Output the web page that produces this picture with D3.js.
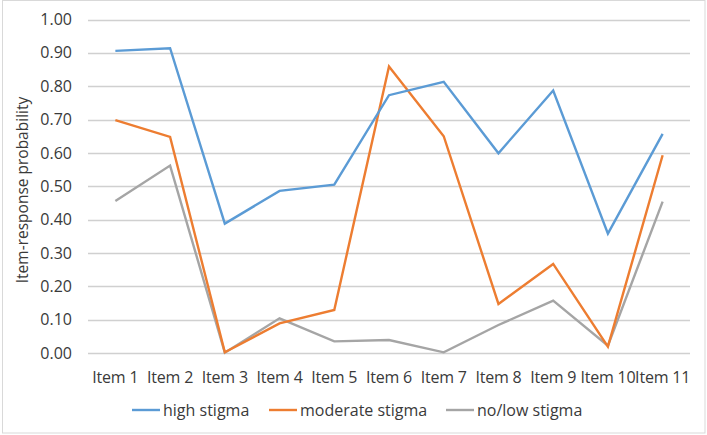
<!DOCTYPE html>
<html><head><meta charset="utf-8">
<script src="https://cdn.jsdelivr.net/npm/d3@7"></script>
<style>body{margin:0;background:#fff}svg{display:block}text{font-family:"Open Sans",sans-serif;fill:#3a3a3a}</style>
</head><body>
<script>
const categories = ["Item 1","Item 2","Item 3","Item 4","Item 5","Item 6","Item 7","Item 8","Item 9","Item 10","Item 11"];
const highStigma = [0.906,0.914,0.388,0.486,0.505,0.773,0.813,0.599,0.787,0.358,0.657];
const moderateStigma = [0.698,0.648,0.002,0.089,0.129,0.859,0.650,0.147,0.267,0.019,0.593];
const lowStigma = [0.456,0.562,0.001,0.104,0.035,0.039,0.002,0.084,0.157,0.022,0.454];
const yTicks = [0,0.1,0.2,0.3,0.4,0.5,0.6,0.7,0.8,0.9,1.0];
const seriesNames = ["high stigma","moderate stigma","no/low stigma"];
const colors = ["#5B9BD5","#ED7D31","#A5A5A5"];
const yTitle = "Item-response probability";

const W=707,H=435;
const svg=d3.select("body").append("svg").attr("width",W).attr("height",H);
svg.append("rect").attr("x",2.5).attr("y",0.5).attr("width",702.5).attr("height",432.5)
  .attr("fill","#fff").attr("stroke","#d9d9d9");

const x=d3.scaleBand().domain(categories).range([88,690]).padding(0);
const y=d3.scaleLinear().domain([0,1]).range([353,19.5]);
const cx=d=>x(d)+x.bandwidth()/2;

svg.append("g").selectAll("line").data(yTicks).join("line")
  .attr("x1",88).attr("x2",690).attr("y1",d=>Math.round(y(d))+0.5).attr("y2",d=>Math.round(y(d))+0.5)
  .attr("stroke","#d0d0d0").attr("stroke-width",1.3);

svg.append("g").selectAll("text").data(yTicks).join("text")
  .attr("x",72).attr("y",d=>y(d)).attr("dy","0.35em").attr("text-anchor","end")
  .attr("font-size",16).text(d=>d.toFixed(2));

svg.append("g").selectAll("text").data(categories).join("text")
  .attr("x",cx).attr("y",377).attr("dy","0.35em").attr("text-anchor","middle")
  .attr("font-size",16).attr("letter-spacing",-0.2).text(d=>d);

svg.append("text").attr("transform","translate(23,190) rotate(-90)")
  .attr("text-anchor","middle").attr("dy","0.35em").attr("font-size",15.5).text(yTitle);

const all=[highStigma,moderateStigma,lowStigma];
const line=d3.line().x((d,i)=>cx(categories[i])).y(d=>y(d));
[2,1,0].forEach(k=>{
  svg.append("path").datum(all[k]).attr("d",line).attr("fill","none")
    .attr("stroke",colors[k]).attr("stroke-width",2.4).attr("stroke-linejoin","miter");
});

const legX=[132,269,446];
const lg=svg.append("g");
seriesNames.forEach((n,i)=>{
  lg.append("line").attr("x1",legX[i]).attr("x2",legX[i]+28).attr("y1",410).attr("y2",410)
    .attr("stroke",colors[i]).attr("stroke-width",2.4);
  lg.append("text").attr("x",legX[i]+31).attr("y",410).attr("dy","0.35em").attr("font-size",16).text(n);
});
</script>
</body></html>
